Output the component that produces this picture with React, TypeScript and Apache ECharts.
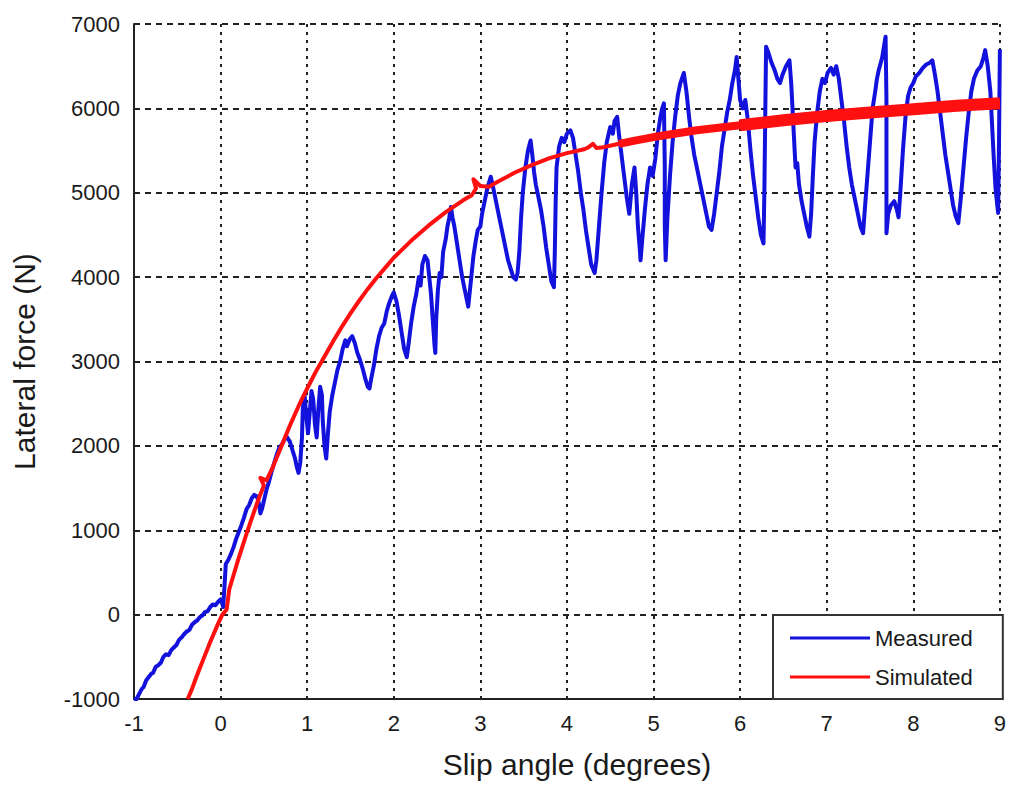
import React, { useEffect, useRef } from "react";
import * as echarts from "echarts";

const xTicks = [-1, 0, 1, 2, 3, 4, 5, 6, 7, 8, 9];
const yTicks = [-1000, 0, 1000, 2000, 3000, 4000, 5000, 6000, 7000];

const measured: number[][] = [
  [-1.0, -1000], [-0.97, -1000], [-0.94, -940], [-0.91, -880], [-0.89, -860], [-0.86, -780], [-0.83, -740],
  [-0.8, -700], [-0.78, -690], [-0.75, -620], [-0.72, -600], [-0.69, -570], [-0.66, -500], [-0.63, -470],
  [-0.6, -480], [-0.57, -420], [-0.54, -390], [-0.51, -360], [-0.48, -300], [-0.45, -270], [-0.42, -230],
  [-0.39, -200], [-0.36, -180], [-0.33, -120], [-0.3, -90], [-0.27, -70], [-0.24, -30], [-0.21, -10],
  [-0.18, 30], [-0.15, 40], [-0.12, 90], [-0.09, 120], [-0.06, 110], [-0.03, 150], [0.0, 180], [0.02, 130],
  [0.03, 90], [0.05, 420], [0.06, 600], [0.09, 650], [0.12, 720], [0.15, 800], [0.18, 900], [0.21, 980],
  [0.24, 1060], [0.27, 1150], [0.3, 1250], [0.33, 1300], [0.36, 1380], [0.39, 1420], [0.42, 1400],
  [0.44, 1330], [0.46, 1200], [0.48, 1260], [0.5, 1350], [0.53, 1480], [0.56, 1580], [0.59, 1700],
  [0.62, 1800], [0.65, 1900], [0.68, 1980], [0.71, 2020], [0.74, 2080], [0.77, 2100], [0.8, 2050],
  [0.83, 1950], [0.86, 1850], [0.88, 1750], [0.9, 1680], [0.92, 1800], [0.94, 2100], [0.95, 2450],
  [0.97, 2600], [0.99, 2350], [1.01, 2150], [1.03, 2400], [1.05, 2650], [1.07, 2550], [1.09, 2250],
  [1.11, 2100], [1.13, 2450], [1.15, 2700], [1.17, 2600], [1.18, 2300], [1.2, 2000], [1.22, 1850],
  [1.24, 2150], [1.26, 2400], [1.29, 2600], [1.32, 2750], [1.35, 2900], [1.38, 3000], [1.41, 3150],
  [1.44, 3250], [1.46, 3180], [1.49, 3260], [1.52, 3300], [1.55, 3220], [1.58, 3100], [1.61, 3020],
  [1.64, 2920], [1.67, 2800], [1.7, 2700], [1.72, 2680], [1.74, 2800], [1.77, 2950], [1.8, 3150],
  [1.83, 3300], [1.86, 3400], [1.89, 3450], [1.92, 3600], [1.95, 3700], [1.98, 3780], [2.0, 3820],
  [2.03, 3720], [2.06, 3550], [2.09, 3350], [2.12, 3150], [2.15, 3050], [2.17, 3200], [2.2, 3450],
  [2.23, 3650], [2.26, 3800], [2.29, 4000], [2.31, 3900], [2.33, 4150], [2.36, 4250], [2.39, 4200],
  [2.41, 4000], [2.43, 3800], [2.45, 3500], [2.47, 3200], [2.48, 3100], [2.49, 3500], [2.51, 3850],
  [2.53, 4050], [2.55, 4000], [2.57, 4300], [2.6, 4450], [2.62, 4600], [2.64, 4700], [2.66, 4830],
  [2.68, 4700], [2.7, 4600], [2.73, 4400], [2.76, 4200], [2.79, 4000], [2.82, 3850], [2.85, 3700],
  [2.86, 3650], [2.88, 3850], [2.9, 4050], [2.92, 4250], [2.95, 4450], [2.97, 4560], [3.0, 4600],
  [3.02, 4750], [3.05, 4900], [3.08, 5050], [3.1, 5120], [3.12, 5190], [3.14, 5100], [3.17, 4950],
  [3.2, 4800], [3.23, 4650], [3.26, 4500], [3.29, 4350], [3.32, 4200], [3.35, 4100], [3.38, 4000],
  [3.41, 3970], [3.43, 4050], [3.45, 4300], [3.47, 4700], [3.49, 5000], [3.52, 5300], [3.55, 5500],
  [3.58, 5620], [3.6, 5450], [3.62, 5250], [3.64, 5100], [3.67, 4950], [3.7, 4800], [3.73, 4600],
  [3.76, 4350], [3.79, 4150], [3.82, 3950], [3.85, 3880], [3.86, 4300], [3.87, 4900], [3.88, 5300],
  [3.91, 5550], [3.94, 5650], [3.97, 5600], [4.0, 5700], [4.04, 5740], [4.07, 5650], [4.1, 5450],
  [4.13, 5250], [4.16, 5000], [4.19, 4800], [4.22, 4550], [4.25, 4350], [4.28, 4150], [4.32, 4050],
  [4.34, 4200], [4.37, 4600], [4.4, 5000], [4.43, 5350], [4.46, 5600], [4.5, 5780], [4.53, 5700],
  [4.55, 5850], [4.58, 5900], [4.6, 5700], [4.63, 5450], [4.66, 5200], [4.69, 4950], [4.72, 4750],
  [4.75, 5100], [4.78, 5300], [4.8, 5000], [4.82, 4600], [4.84, 4350], [4.85, 4200], [4.87, 4450],
  [4.9, 4800], [4.93, 5100], [4.96, 5300], [4.99, 5200], [5.02, 5400], [5.05, 5700], [5.08, 5900],
  [5.1, 6000], [5.12, 6060], [5.13, 5300], [5.13, 4600], [5.14, 4200], [5.16, 4700], [5.19, 5200],
  [5.22, 5600], [5.25, 5900], [5.28, 6150], [5.31, 6300], [5.35, 6420], [5.38, 6200], [5.41, 5900],
  [5.44, 5650], [5.47, 5450], [5.5, 5300], [5.53, 5150], [5.57, 4950], [5.61, 4750], [5.64, 4600],
  [5.67, 4560], [5.7, 4750], [5.73, 5000], [5.76, 5250], [5.79, 5550], [5.82, 5750], [5.85, 5950],
  [5.88, 6100], [5.91, 6300], [5.94, 6450], [5.96, 6610], [5.98, 6350], [6.0, 6100], [6.03, 6000],
  [6.06, 6100], [6.09, 5850], [6.12, 5500], [6.15, 5200], [6.18, 4950], [6.21, 4700], [6.24, 4500],
  [6.27, 4400], [6.28, 5000], [6.29, 5900], [6.3, 6730], [6.33, 6650], [6.36, 6550], [6.4, 6450],
  [6.43, 6350], [6.46, 6300], [6.49, 6400], [6.53, 6500], [6.57, 6570], [6.59, 6300], [6.61, 5900],
  [6.63, 5500], [6.64, 5300], [6.66, 5350], [6.68, 5100], [6.71, 4900], [6.74, 4750], [6.77, 4600],
  [6.8, 4480], [6.82, 4750], [6.84, 5200], [6.86, 5600], [6.89, 5950], [6.92, 6200], [6.95, 6350],
  [6.98, 6300], [7.01, 6420], [7.05, 6480], [7.08, 6400], [7.11, 6500], [7.14, 6350], [7.17, 6100],
  [7.2, 5850], [7.23, 5550], [7.26, 5300], [7.29, 5100], [7.32, 4950], [7.36, 4750], [7.39, 4600],
  [7.42, 4520], [7.44, 4800], [7.47, 5200], [7.5, 5600], [7.53, 6000], [7.56, 6200], [7.58, 6350],
  [7.6, 6450], [7.64, 6600], [7.68, 6850], [7.69, 6100], [7.69, 5300], [7.69, 4520], [7.71, 4750],
  [7.74, 4850], [7.78, 4900], [7.81, 4800], [7.83, 4710], [7.85, 5000], [7.88, 5500], [7.91, 5900],
  [7.94, 6150], [7.97, 6250], [8.0, 6300], [8.03, 6380], [8.07, 6420], [8.11, 6480], [8.15, 6520],
  [8.19, 6540], [8.22, 6570], [8.25, 6400], [8.28, 6200], [8.31, 5950], [8.34, 5700], [8.37, 5450],
  [8.4, 5250], [8.43, 5050], [8.46, 4850], [8.49, 4720], [8.52, 4640], [8.55, 4950], [8.58, 5300],
  [8.61, 5650], [8.64, 5950], [8.67, 6200], [8.7, 6350], [8.74, 6450], [8.78, 6500], [8.81, 6600],
  [8.83, 6690], [8.86, 6500], [8.89, 6200], [8.91, 5800], [8.93, 5400], [8.95, 5050], [8.97, 4850],
  [8.98, 4760], [8.99, 5600], [9.0, 6700],
];

const simulated: number[][] = [
  [-0.38, -1000], [-0.33, -880], [-0.28, -740], [-0.23, -610], [-0.18, -480], [-0.13, -350], [-0.08, -230],
  [-0.03, -110], [0.02, 0], [0.07, 60], [0.1, 300], [0.15, 470], [0.2, 640], [0.25, 800], [0.3, 960],
  [0.35, 1110], [0.4, 1260], [0.45, 1400], [0.5, 1530], [0.46, 1620], [0.53, 1590], [0.6, 1740],
  [0.7, 1990], [0.8, 2240], [0.9, 2470], [1.0, 2680], [1.1, 2880], [1.2, 3060], [1.3, 3240], [1.4, 3410],
  [1.5, 3570], [1.6, 3720], [1.7, 3860], [1.8, 3990], [1.9, 4110], [2.0, 4230], [2.2, 4430], [2.4, 4610],
  [2.6, 4770], [2.8, 4910], [2.9, 4970], [2.95, 5050], [2.92, 5160], [3.0, 5080], [3.1, 5070], [3.2, 5130],
  [3.4, 5240], [3.6, 5330], [3.8, 5410], [4.0, 5470], [4.2, 5515], [4.25, 5540], [4.3, 5580], [4.34, 5530],
  [4.4, 5535], [4.6, 5580], [4.8, 5620], [5.0, 5660], [5.5, 5740], [6.0, 5800], [6.5, 5860], [7.0, 5910],
  [7.5, 5950], [8.0, 5990], [8.5, 6030], [9.0, 6060],
];

const simulatedBandA = simulated.filter((p) => p[0] >= 4.6);
const simulatedBandB = simulated.filter((p) => p[0] >= 6.0);

const FONT = 'Arial, "Liberation Sans", sans-serif';
const TEXT = "#1a1a1a";

export default function App() {
  const ref = useRef<HTMLDivElement>(null);

  useEffect(() => {
    if (!ref.current) return;
    const chart = echarts.init(ref.current, undefined, { renderer: "svg" });
    const red = "#ff1010";
    const blue = "#1212dc";
    chart.setOption({
      animation: false,
      backgroundColor: "#ffffff",
      grid: { left: 134, top: 24, right: 3, bottom: 87, containLabel: false },
      legend: {
        left: 773,
        top: 615,
        orient: "vertical",
        data: ["Measured", "Simulated"],
        icon: "rect",
        itemWidth: 80,
        itemHeight: 3,
        itemGap: 17,
        itemTextGap: 8,
        padding: [12, 30, 11, 17],
        borderColor: "#333",
        borderWidth: 2,
        borderRadius: 0,
        backgroundColor: "#ffffff",
        textStyle: { fontFamily: FONT, fontSize: 22, color: TEXT },
        selectedMode: false,
      },
      xAxis: {
        type: "value",
        min: xTicks[0],
        max: xTicks[xTicks.length - 1],
        interval: 1,
        name: "Slip angle (degrees)",
        nameLocation: "middle",
        nameGap: 50,
        nameTextStyle: { fontFamily: FONT, fontSize: 30, color: TEXT, padding: [0, 0, 0, 20] },
        axisLine: { show: true, onZero: false, lineStyle: { color: "#222", width: 2 } },
        axisTick: { show: false },
        axisLabel: { fontFamily: FONT, fontSize: 22, color: TEXT, margin: 13, formatter: (v: number) => String(v) },
        splitLine: { show: true, lineStyle: { color: "#222", width: 2, type: [3, 5] } },
      },
      yAxis: {
        type: "value",
        min: yTicks[0],
        max: yTicks[yTicks.length - 1],
        interval: 1000,
        name: "Lateral force (N)",
        nameLocation: "middle",
        nameGap: 95,
        nameTextStyle: { fontFamily: FONT, fontSize: 30, color: TEXT },
        axisLine: { show: true, onZero: false, lineStyle: { color: "#222", width: 2 } },
        axisTick: { show: false },
        axisLabel: { fontFamily: FONT, fontSize: 22, color: TEXT, margin: 14, formatter: (v: number) => String(v) },
        splitLine: { show: true, lineStyle: { color: "#222", width: 2, type: [6, 5] } },
      },
      series: [
        {
          name: "Measured",
          type: "line",
          data: measured,
          showSymbol: false,
          symbol: "none",
          lineStyle: { color: blue, width: 4, join: "round" },
          itemStyle: { color: blue },
          z: 2,
        },
        {
          name: "Simulated",
          type: "line",
          data: simulated,
          showSymbol: false,
          symbol: "none",
          lineStyle: { color: red, width: 4, join: "round" },
          itemStyle: { color: red },
          z: 3,
        },
        {
          name: "Simulated",
          type: "line",
          data: simulatedBandA,
          showSymbol: false,
          symbol: "none",
          lineStyle: { color: red, width: 8 },
          itemStyle: { color: red },
          z: 3,
        },
        {
          name: "Simulated",
          type: "line",
          data: simulatedBandB,
          showSymbol: false,
          symbol: "none",
          lineStyle: { color: red, width: 12 },
          itemStyle: { color: red },
          z: 3,
        },
      ],
    });
    return () => chart.dispose();
  }, []);

  return (
    <div
      ref={ref}
      style={{ position: "fixed", left: 0, top: 0, width: 1009, height: 786 }}
    />
  );
}
